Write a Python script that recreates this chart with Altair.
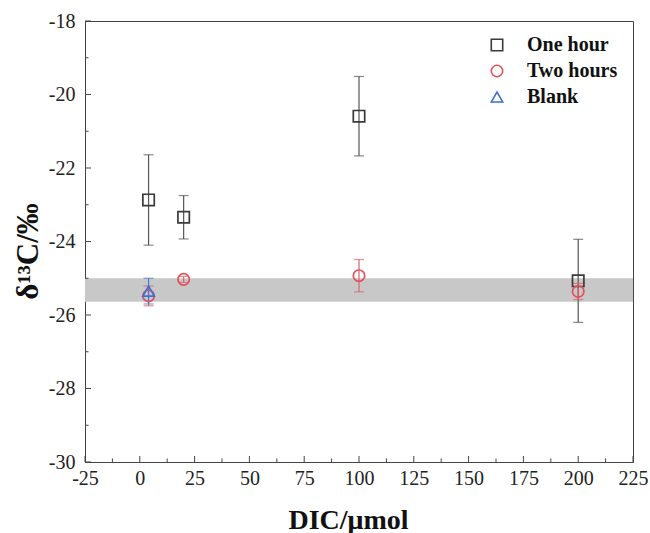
import altair as alt
import pandas as pd

# DIC amount (µmol), δ13C (‰) and standard deviation for each series
one_hour_dic = [4, 20, 100, 200]
one_hour_d13c = [-22.87, -23.34, -20.59, -25.07]
one_hour_sd = [1.23, 0.59, 1.08, 1.13]

two_hours_dic = [4, 20, 100, 200]
two_hours_d13c = [-25.48, -25.03, -24.93, -25.36]
two_hours_sd = [0.27, 0.08, 0.44, 0.22]

blank_dic = [4]
blank_d13c = [-25.35]
blank_sd = [0.35]

# reference range of the standard (shaded band)
band_range = [-25.0, -25.64]

series_names = ["One hour", "Two hours", "Blank"]
series_colors = ["#3a3a3a", "#e0525c", "#3b6fd4"]
errbar_colors = ["#555555", "#e0606a", "#4a78d0"]
series_shapes = ["square", "circle", "triangle-up"]

x_ticks = [-25, 0, 25, 50, 75, 100, 125, 150, 175, 200, 225]
x_minor = [-12.5, 12.5, 37.5, 62.5, 87.5, 112.5, 137.5, 162.5, 187.5, 212.5]
y_ticks = [-30, -28, -26, -24, -22, -20, -18]
y_minor = [-29, -27, -25, -23, -21, -19]

rows = []
for name, xs_, ys_, es_ in [
    ("One hour", one_hour_dic, one_hour_d13c, one_hour_sd),
    ("Two hours", two_hours_dic, two_hours_d13c, two_hours_sd),
    ("Blank", blank_dic, blank_d13c, blank_sd),
]:
    for x, y, e in zip(xs_, ys_, es_):
        rows.append({"series": name, "dic": x, "d13c": y, "lo": y - e, "hi": y + e})
df = pd.DataFrame(rows)

W, H = 548, 441
FONT = "Liberation Serif"
HYPHEN = "replace(datum.label, '\u2212', '-')"

xscale = alt.Scale(domain=[-25, 225], nice=False, zero=False)
yscale = alt.Scale(domain=[-30, -18], nice=False, zero=False)
cscale = alt.Scale(domain=series_names, range=series_colors)
sscale = alt.Scale(domain=series_names, range=series_shapes)

x_axis = alt.Axis(
    values=x_ticks, title="DIC/μmol", ticks=False, grid=False,
    labelPadding=6, labelFlush=False, labelExpr=HYPHEN,
    titleX=263, titleY=66, titleBaseline="alphabetic",
)
y_axis = alt.Axis(
    values=y_ticks, title="δ¹³C/‰", ticks=False, grid=False,
    labelPadding=10, labelFlush=False, labelExpr=HYPHEN,
    titleX=-48, titleY=230, titleBaseline="alphabetic", titleFontSize=31,
)

legend = alt.Legend(
    orient="none", legendX=402, legendY=14, title=None,
    labelFont=FONT, labelFontWeight="bold", labelFontSize=20,
    labelColor="#111", symbolSize=130, symbolStrokeWidth=1.6,
    labelOffset=20, rowPadding=6,
)

band = alt.Chart(pd.DataFrame({"lo": [band_range[0]], "hi": [band_range[1]]})).mark_rect(
    color="#c8c8c8"
).encode(
    y=alt.Y("lo:Q", scale=yscale, axis=y_axis),
    y2="hi:Q",
    x=alt.value(0),
    x2=alt.value(W),
)

base = alt.Chart(df)

# error bars (whisker plus caps), drawn per series in its own colour
err_layers = []
for name, col in zip(series_names, errbar_colors):
    sub = base.transform_filter(alt.datum.series == name)
    err_layers.append(
        sub.mark_rule(strokeWidth=1.2, color=col).encode(
            x=alt.X("dic:Q", scale=xscale, axis=x_axis),
            y=alt.Y("lo:Q", scale=yscale),
            y2="hi:Q",
        )
    )
    for end in ["lo", "hi"]:
        err_layers.append(
            sub.mark_tick(orient="horizontal", size=10, thickness=1.2, color=col).encode(
                x=alt.X("dic:Q", scale=xscale),
                y=alt.Y(f"{end}:Q", scale=yscale),
            )
        )

points = base.mark_point(filled=False, size=130, strokeWidth=1.7, opacity=1).encode(
    x=alt.X("dic:Q", scale=xscale),
    y=alt.Y("d13c:Q", scale=yscale),
    color=alt.Color("series:N", scale=cscale, legend=legend),
    shape=alt.Shape("series:N", scale=sscale, legend=legend),
)

# inward tick marks on the left and bottom axes
xt_major = alt.Chart(pd.DataFrame({"v": x_ticks})).mark_rule(color="#444").encode(
    x=alt.X("v:Q", scale=xscale), y=alt.value(H), y2=alt.value(H - 6)
)
xt_minor = alt.Chart(pd.DataFrame({"v": x_minor})).mark_rule(color="#444").encode(
    x=alt.X("v:Q", scale=xscale), y=alt.value(H), y2=alt.value(H - 3.5)
)
yt_major = alt.Chart(pd.DataFrame({"v": y_ticks})).mark_rule(color="#444").encode(
    y=alt.Y("v:Q", scale=yscale), x=alt.value(0), x2=alt.value(6)
)
yt_minor = alt.Chart(pd.DataFrame({"v": y_minor})).mark_rule(color="#444").encode(
    y=alt.Y("v:Q", scale=yscale), x=alt.value(0), x2=alt.value(3.5)
)

chart = alt.layer(
    band, xt_major, xt_minor, yt_major, yt_minor, *err_layers, points
).properties(
    width=W, height=H,
    padding={"left": 85, "top": 21, "right": 17, "bottom": 71},
    autosize=alt.AutoSizeParams(type="none"),
    background="white",
).configure_view(
    stroke="#444", strokeWidth=1
).configure_axis(
    labelFont=FONT, labelFontSize=20, labelColor="#222",
    titleFont=FONT, titleFontSize=28, titleFontWeight="bold", titleColor="#111",
    domainColor="#444", domainWidth=1,
)

chart.save("out.html", embed_options={"renderer": "svg", "actions": False})
